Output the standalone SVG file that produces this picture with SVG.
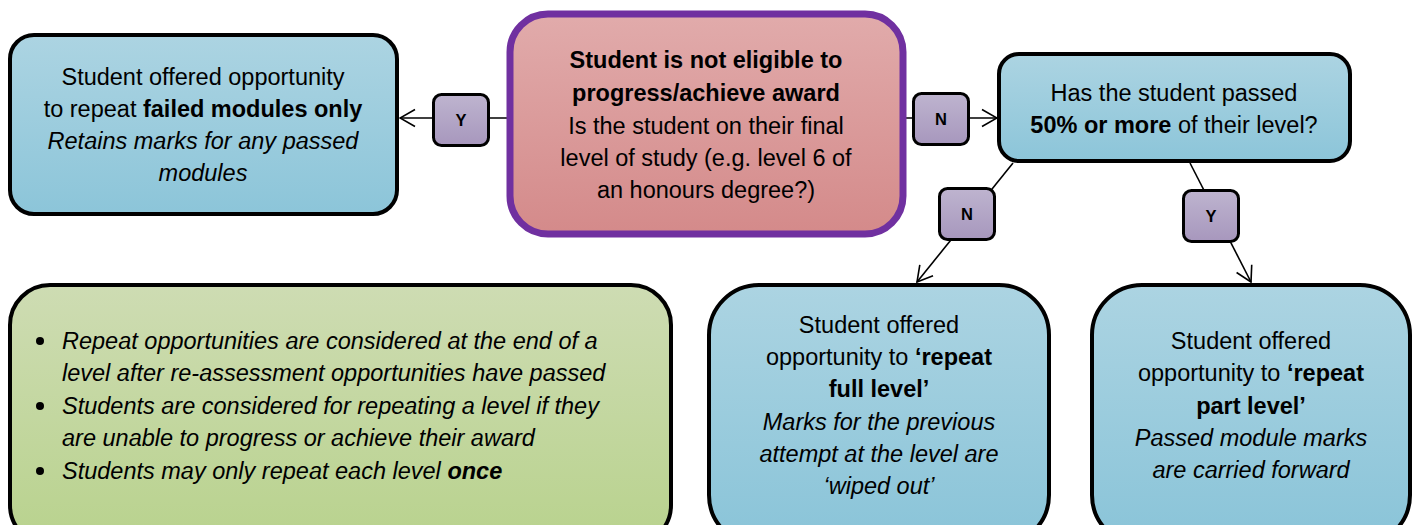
<svg xmlns="http://www.w3.org/2000/svg" width="1419" height="525" viewBox="0 0 1419 525">
<defs>
<linearGradient id="gBlue" x1="0" y1="0" x2="0" y2="1"><stop offset="0" stop-color="#acd4e2"/><stop offset="1" stop-color="#8cc5d9"/></linearGradient>
<linearGradient id="gBlueTall" gradientUnits="userSpaceOnUse" x1="0" y1="285" x2="0" y2="525"><stop offset="0" stop-color="#acd4e2"/><stop offset="1" stop-color="#8cc5d9"/></linearGradient>
<linearGradient id="gRed" x1="0" y1="0" x2="0" y2="1"><stop offset="0" stop-color="#e1abab"/><stop offset="1" stop-color="#d48a8a"/></linearGradient>
<linearGradient id="gGreen" gradientUnits="userSpaceOnUse" x1="0" y1="285" x2="0" y2="525"><stop offset="0" stop-color="#cedcb3"/><stop offset="1" stop-color="#bad390"/></linearGradient>
<linearGradient id="gPurple" x1="0" y1="0" x2="0" y2="1"><stop offset="0" stop-color="#beb4cf"/><stop offset="1" stop-color="#a797bd"/></linearGradient>
<marker id="arr" markerUnits="userSpaceOnUse" markerWidth="20" markerHeight="20" viewBox="0 0 20 20" refX="19" refY="10" orient="auto">
<path d="M4,1.5 L19,10 L4,18.5" fill="none" stroke="#000" stroke-width="1.6"/>
</marker>
<style>
text{font-family:"Liberation Sans",Arial,sans-serif;fill:#000;}
.t{font-size:23.5px;text-anchor:middle;}
.b{font-weight:bold;}
.i{font-style:italic;}
.box{stroke:#000;stroke-width:4;}
.lbl{fill:url(#gPurple);stroke:#000;stroke-width:3;}
.lt{font-size:16.5px;font-weight:bold;text-anchor:middle;}
.con{stroke:#000;stroke-width:1.6;fill:none;marker-end:url(#arr);}
.g{font-size:23.5px;font-style:italic;}
</style>
</defs>
<rect width="1419" height="525" fill="#fff"/>
<g id="connectors">
<line class="con" x1="509" y1="118" x2="400" y2="118"/>
<line class="con" x1="904" y1="118" x2="997" y2="118"/>
<line class="con" x1="1013" y1="163" x2="917" y2="282"/>
<line class="con" x1="1190" y1="163" x2="1251" y2="282"/>
</g>
<g id="node-repeat-failed">
<rect class="box" x="10" y="35" width="387" height="179" rx="24" fill="url(#gBlue)"/>
<text class="t" x="203" y="85">Student offered opportunity</text>
<text class="t" x="203" y="117">to repeat <tspan class="b">failed modules only</tspan></text>
<text class="t i" x="203" y="149">Retains marks for any passed</text>
<text class="t i" x="203" y="181">modules</text>
</g>
<g id="node-not-eligible">
<rect x="510" y="14" width="393" height="220" rx="38" fill="url(#gRed)" stroke="#7030a0" stroke-width="7"/>
<text class="t b" x="706" y="68">Student is not eligible to</text>
<text class="t b" x="706" y="101">progress/achieve award</text>
<text class="t" x="706" y="134">Is the student on their final</text>
<text class="t" x="706" y="166">level of study (e.g. level 6 of</text>
<text class="t" x="706" y="198">an honours degree?)</text>
</g>
<g id="node-passed-50">
<rect class="box" x="999" y="54" width="351" height="107" rx="20" fill="url(#gBlue)"/>
<text class="t" x="1174" y="101">Has the student passed</text>
<text class="t" x="1174" y="133"><tspan class="b">50% or more</tspan> of their level?</text>
</g>
<g id="node-notes">
<rect class="box" x="10" y="285" width="661" height="260" rx="40" fill="url(#gGreen)"/>
<circle cx="40" cy="341" r="4"/>
<circle cx="40" cy="406" r="4"/>
<circle cx="40" cy="471" r="4"/>
<text class="g" x="62" y="349">Repeat opportunities are considered at the end of a</text>
<text class="g" x="62" y="381">level after re-assessment opportunities have passed</text>
<text class="g" x="62" y="414">Students are considered for repeating a level if they</text>
<text class="g" x="62" y="446">are unable to progress or achieve their award</text>
<text class="g" x="62" y="479">Students may only repeat each level <tspan class="b">once</tspan></text>
</g>
<g id="node-repeat-full">
<rect class="box" x="709" y="285" width="340" height="260" rx="50" fill="url(#gBlueTall)"/>
<text class="t" x="879" y="333">Student offered</text>
<text class="t" x="879" y="365">opportunity to <tspan class="b">‘repeat</tspan></text>
<text class="t b" x="879" y="397">full level’</text>
<text class="t i" x="879" y="430">Marks for the previous</text>
<text class="t i" x="879" y="462">attempt at the level are</text>
<text class="t i" x="879" y="494">‘wiped out’</text>
</g>
<g id="node-repeat-part">
<rect class="box" x="1092" y="285" width="318" height="260" rx="50" fill="url(#gBlueTall)"/>
<text class="t" x="1251" y="349">Student offered</text>
<text class="t" x="1251" y="381">opportunity to <tspan class="b">‘repeat</tspan></text>
<text class="t b" x="1251" y="414">part level’</text>
<text class="t i" x="1251" y="446">Passed module marks</text>
<text class="t i" x="1251" y="478">are carried forward</text>
</g>
<g id="label-y1">
<rect class="lbl" x="433.5" y="94.5" width="55" height="51" rx="8"/>
<text class="lt" x="461" y="126">Y</text>
</g>
<g id="label-n1">
<rect class="lbl" x="913.5" y="93.5" width="55" height="51" rx="8"/>
<text class="lt" x="941" y="125">N</text>
</g>
<g id="label-n2">
<rect class="lbl" x="939.5" y="188.5" width="55" height="51" rx="8"/>
<text class="lt" x="967" y="220">N</text>
</g>
<g id="label-y2">
<rect class="lbl" x="1183.5" y="190.5" width="55" height="51" rx="8"/>
<text class="lt" x="1211" y="222">Y</text>
</g>
</svg>
